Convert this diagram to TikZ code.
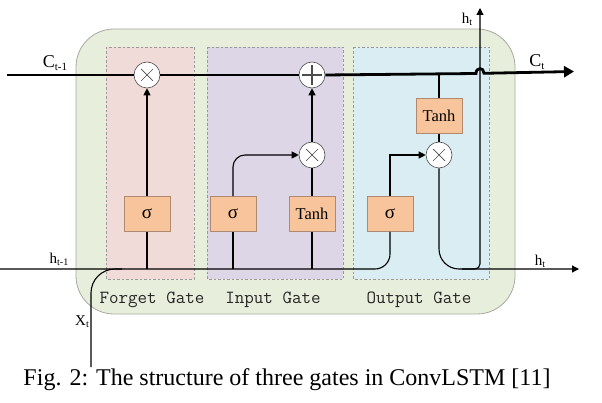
\documentclass[tikz,border=0pt]{standalone}
\usepackage{fontspec}
\setmainfont{Liberation Serif}
\usetikzlibrary{arrows.meta}
\definecolor{cellfill}{HTML}{E7EEDB}
\definecolor{cellline}{HTML}{A8A8A0}
\definecolor{forgetfill}{HTML}{F0DBD8}
\definecolor{inputfill}{HTML}{DCD6E6}
\definecolor{outputfill}{HTML}{D9EDF3}
\definecolor{boxfill}{HTML}{F8C49C}
\definecolor{boxline}{HTML}{B08A70}
\newcommand\sublab[4]{{\fontsize{#1}{#1}\selectfont #3\raisebox{-0.3ex}{\fontsize{#2}{#2}\selectfont #4}}}
\tikzset{
  gatebox/.style={draw=gray!80, dashed, dash pattern=on 2.5pt off 2pt, line width=0.6pt},
  fnbox/.style={draw=boxline, fill=boxfill, line width=0.6pt, minimum width=46pt, minimum height=35pt, inner sep=0pt, font=\fontsize{16.5}{16.5}\selectfont},
  sigbox/.style={fnbox, font=\fontsize{19}{19}\selectfont},
  opcirc/.style={circle, draw=black!70, fill=white, line width=0.6pt, minimum size=26pt, inner sep=0pt},
  timescirc/.style={opcirc, path picture={
      \draw[line width=0.7pt] ([shift={(-6,-6)}]path picture bounding box.center) -- ([shift={(6,6)}]path picture bounding box.center);
      \draw[line width=0.7pt] ([shift={(-6,6)}]path picture bounding box.center) -- ([shift={(6,-6)}]path picture bounding box.center);}},
  pluscirc/.style={opcirc, path picture={
      \draw[line width=1.2pt] ([shift={(-10,0)}]path picture bounding box.center) -- ([shift={(10,0)}]path picture bounding box.center);
      \draw[line width=1.2pt] ([shift={(0,-10)}]path picture bounding box.center) -- ([shift={(0,10)}]path picture bounding box.center);}},
  wire/.style={line width=1.1pt, black},
  arr/.style={wire, -{Triangle[length=7pt,width=7pt]}},
  cwire/.style={line width=2.8pt, black},
  gatelab/.style={font=\ttfamily\fontsize{18.5}{18.5}\selectfont, text=black!85},
}
\begin{document}
\begin{tikzpicture}[x=1pt,y=-1pt]
\useasboundingbox (0,0) rectangle (602,403);
% cell
\draw[fill=cellfill, draw=cellline, line width=0.8pt, rounded corners=38pt] (76,29) rectangle (515,314);
% gates
\fill[forgetfill] (106,47) rectangle (194,279);
\draw[gatebox] (106,47) rectangle (194,279);
\fill[inputfill] (207,47) rectangle (343,279);
\draw[gatebox] (207,47) rectangle (343,279);
\fill[outputfill] (353,47) rectangle (489,279);
\draw[gatebox] (353,47) rectangle (489,279);
% operators
\node[timescirc] (m1) at (147,75) {};
\node[pluscirc] (p1) at (312,75) {};
\node[timescirc] (m2) at (312,155) {};
\node[timescirc] (m3) at (439,155) {};
% function boxes
\node[sigbox] (sf) at (147,214) {σ};
\node[sigbox] (si) at (233,214) {σ};
\node[fnbox] (ti) at (312,214) {Tanh};
\node[sigbox] (so) at (390,214) {σ};
\node[fnbox] (to) at (439,116) {Tanh};
% coordinates
\coordinate (cin) at (7,75);
\coordinate (cj) at (439,74);
\coordinate (hopa) at (476,73.5);
\coordinate (hopb) at (484,73.3);
\coordinate (cout) at (574,71.5);
\coordinate (hin) at (0,269);
\coordinate (hf) at (147,269);
\coordinate (hi1) at (233,269);
\coordinate (hi2) at (312,269);
\coordinate (hk) at (462,269);
\coordinate (hout) at (579,269);
\coordinate (htop) at (480,8);
\coordinate (xin) at (91,367);
\coordinate (xj) at (122,269);
% cell state line
\draw[cwire] (cin) -- (m1.west);
\draw[cwire] (m1.east) -- (p1.west);
\draw[cwire, -{Triangle[length=10pt,width=11pt]}] (p1.east) -- (hopa) .. controls (476,67) and (484,67) .. (hopb) -- (cout);
% hidden input line
\draw[wire, rounded corners=15pt] (hin) -| (so.south);
\draw[wire, rounded corners=24pt] (xin) |- (xj);
% forget gate
\draw[wire] (hf) -- (sf.south);
\draw[arr] (sf.north) -- (m1.south);
% input gate
\draw[wire] (hi1) -- (si.south);
\draw[arr, rounded corners=12pt] (si.north) |- (m2.west);
\draw[wire] (hi2) -- (ti.south);
\draw[wire] (ti.north) -- (m2.south);
\draw[arr] (m2.north) -- (p1.south);
% output gate
\draw[arr] (so.north) |- (m3.west);
\draw[wire] (cj) -- (to.north);
\draw[wire] (to.south) -- (m3.north);
\draw[arr, rounded corners=20pt] (m3.south) |- (hout);
\draw[arr, rounded corners=5pt] (hk) -| (htop);
% labels
\node (lc1) at (55,63) {\sublab{18}{11}{C}{t-1}};
\node (lc2) at (537,62) {\sublab{18}{11}{C}{t}};
\node (lh1) at (59,259) {\sublab{15}{10}{h}{t-1}};
\node (lh2) at (540,261) {\sublab{15}{10}{h}{t}};
\node (lh3) at (467,19) {\sublab{15}{10}{h}{t}};
\node (lx) at (82,322) {\sublab{15}{10}{X}{t}};
\node[gatelab] (gf) at (152,300) {Forget Gate};
\node[gatelab] (gi) at (273,300) {Input Gate};
\node[gatelab] (go) at (419,300) {Output Gate};
\node[font=\fontsize{24}{24}\selectfont] (cap) at (287,380) {Fig. 2: The structure of three gates in ConvLSTM [11]};
\end{tikzpicture}
\end{document}
